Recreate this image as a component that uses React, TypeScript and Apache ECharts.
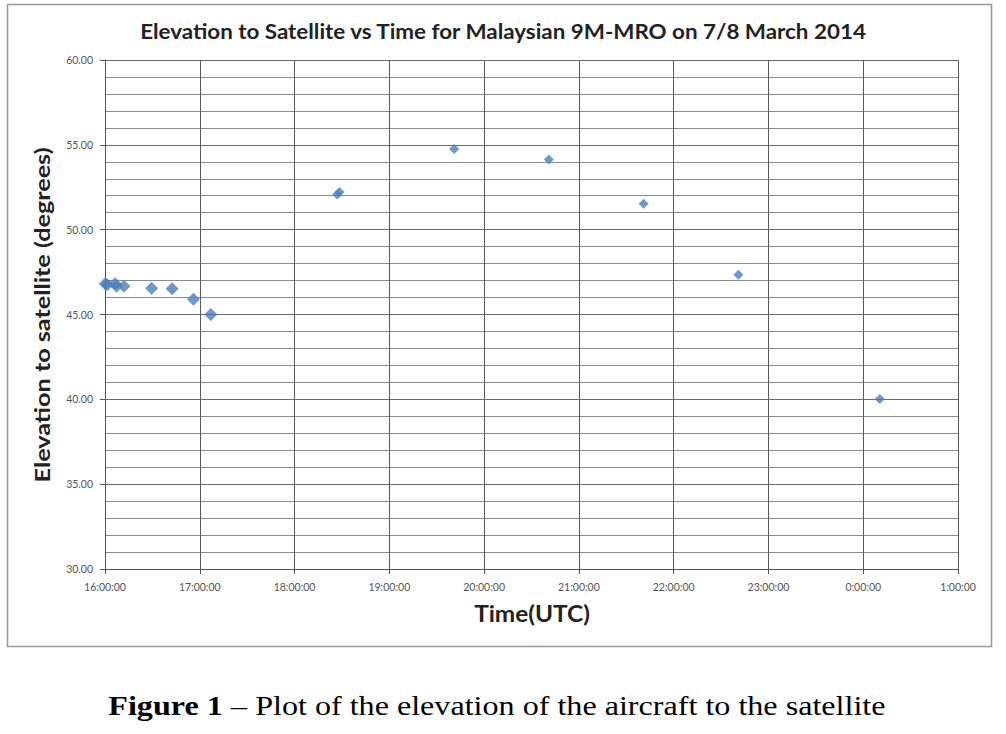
import React, { useEffect, useRef } from "react";
import * as echarts from "echarts";

const chartTitle = "Elevation to Satellite vs Time for Malaysian 9M-MRO on 7/8 March 2014";
const yTitle = "Elevation to satellite (degrees)";
const xTitle = "Time(UTC)";
const captionBold = "Figure 1";
const captionRest = " – Plot of the elevation of the aircraft to the satellite";

const xTickLabels = [
  "16:00:00", "17:00:00", "18:00:00", "19:00:00", "20:00:00",
  "21:00:00", "22:00:00", "23:00:00", "0:00:00", "1:00:00",
];

// first group of handshakes (larger markers)
const earlyTimes = ["16:00:10", "16:01:25", "16:06:20", "16:07:25", "16:12:00", "16:29:30", "16:42:30", "16:56:00", "17:07:00"];
const earlyElev = [46.81, 46.75, 46.81, 46.67, 46.67, 46.55, 46.52, 45.9, 45.0];

// later handshakes (smaller markers)
const lateTimes = ["18:27:00", "18:28:30", "19:41:00", "20:41:00", "21:41:00", "22:41:00", "00:10:30"];
const lateElev = [52.08, 52.22, 54.76, 54.13, 51.53, 47.35, 40.02];

function toHours(t: string): number {
  const [h, m, s] = t.split(":").map(Number);
  let v = h + m / 60 + s / 3600;
  if (v < 12) v += 24;
  return v;
}

const pts = (times: string[], vals: number[]) => times.map((t, i) => [toHours(t), vals[i]]);

export default function App() {
  const ref = useRef<HTMLDivElement>(null);
  useEffect(() => {
    document.body.style.margin = "0";
    const chart = echarts.init(ref.current!, undefined, { renderer: "svg" });
    const gridColor = "#8c8c8c";
    const tickFont = "Lato, sans-serif";
    chart.setOption({
      animation: false,
      backgroundColor: "#ffffff",
      grid: { left: 105, right: 48, top: 60, bottom: 165, containLabel: false },
      xAxis: {
        type: "value",
        min: 16,
        max: 25,
        interval: 1,
        axisLine: { show: true, lineStyle: { color: "#555", width: 1 } },
        axisTick: { show: true, length: 5, lineStyle: { color: "#555" } },
        axisLabel: {
          margin: 12,
          fontSize: 10.5,
          color: "#555",
          fontFamily: tickFont,
          formatter: (v: number) => xTickLabels[Math.round(v - 16)] ?? "",
        },
        splitLine: { show: true, lineStyle: { color: "#5a5a5a", width: 1 } },
      },
      yAxis: {
        type: "value",
        min: 30,
        max: 60,
        interval: 5,
        axisLine: { show: true, lineStyle: { color: "#555", width: 1 } },
        axisTick: { show: true, length: 5, lineStyle: { color: "#555" } },
        minorTick: { show: false, splitNumber: 5 },
        axisLabel: {
          margin: 12,
          fontSize: 10.5,
          color: "#555",
          fontFamily: tickFont,
          formatter: (v: number) => v.toFixed(2),
        },
        splitLine: { show: true, lineStyle: { color: "#6a6a6a", width: 1 } },
        minorSplitLine: { show: true, lineStyle: { color: gridColor, width: 1 } },
      },
      series: [
        {
          type: "scatter",
          name: "early",
          symbol: "diamond",
          symbolSize: 13,
          itemStyle: { color: "#4a7ebb" },
          data: pts(earlyTimes, earlyElev),
        },
        {
          type: "scatter",
          name: "late",
          symbol: "diamond",
          symbolSize: 10,
          itemStyle: { color: "#4a7ebb" },
          data: pts(lateTimes, lateElev),
        },
      ],
      graphic: [
        {
          type: "rect",
          shape: { x: 7.5, y: 4.5, width: 984, height: 642 },
          style: { fill: "none", stroke: "#999", lineWidth: 1.5 },
          z: -1,
        },
        {
          type: "text",
          x: 503,
          y: 31,
          scaleX: 1.12,
          style: {
            text: chartTitle,
            fontFamily: "Lato, sans-serif",
            fontWeight: "bold",
            fontSize: 20,
            fill: "#222",
            textAlign: "center",
            textVerticalAlign: "middle",
          },
        },
        {
          type: "text",
          x: 42,
          y: 315,
          rotation: Math.PI / 2,
          scaleX: 1.2,
          style: {
            text: yTitle,
            fontFamily: "Lato, sans-serif",
            fontWeight: "bold",
            fontSize: 21,
            fill: "#222",
            textAlign: "center",
            textVerticalAlign: "middle",
          },
        },
        {
          type: "text",
          x: 532,
          y: 613,
          scaleX: 1.06,
          style: {
            text: xTitle,
            fontFamily: "Lato, sans-serif",
            fontWeight: "bold",
            fontSize: 23,
            fill: "#222",
            textAlign: "center",
            textVerticalAlign: "middle",
          },
        },
        {
          type: "text",
          x: 497,
          y: 706,
          scaleX: 1.19,
          style: {
            text: "{b|" + captionBold + "}{r|" + captionRest + "}",
            textAlign: "center",
            textVerticalAlign: "middle",
            rich: {
              b: { fontFamily: "Liberation Serif, serif", fontWeight: "bold", fontSize: 27, fill: "#000" },
              r: { fontFamily: "Liberation Serif, serif", fontSize: 27, fill: "#000" },
            },
          },
        },
      ],
    });
    return () => chart.dispose();
  }, []);
  return <div ref={ref} style={{ width: 1006, height: 734 }} />;
}
